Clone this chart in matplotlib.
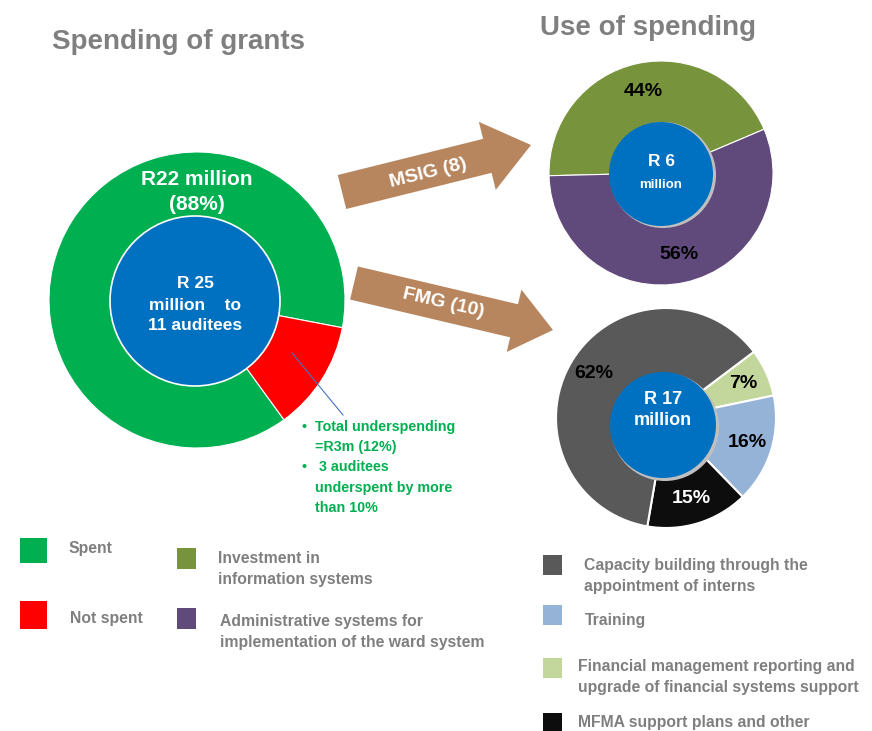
import matplotlib
matplotlib.use('Agg')
import matplotlib.pyplot as plt
from matplotlib.patches import Circle, Rectangle, FancyArrow

plt.rcParams['font.family'] = ['Liberation Sans Narrow', 'Liberation Sans', 'DejaVu Sans']
plt.rcParams['font.weight'] = 'bold'

W, H = 872, 731

# data
grant_labels = ['Spent', 'Not spent']
grant_values = [88, 12]
grant_colors = ['#00b050', '#ff0000']

msig_labels = ['Investment in\ninformation systems',
               'Administrative systems for\nimplementation of the ward system']
msig_values = [44, 56]
msig_colors = ['#77933c', '#604a7b']

fmg_labels = ['Financial management reporting and\nupgrade of financial systems support',
              'Training',
              'MFMA support plans and other',
              'Capacity building through the\nappointment of interns']
fmg_values = [7, 16, 15, 62]
fmg_colors = ['#c3d69b', '#95b3d7', '#0d0d0d', '#595959']
fmg_text_colors = ['black', 'black', 'white', 'black']

GRAY = '#7f7f7f'
BLUE = '#0070c0'
BROWN = '#b7865f'


def Y(y):
    return H - y


fig = plt.figure(figsize=(8.72, 7.31), dpi=100)
ax = fig.add_axes([0, 0, 1, 1])

# left donut: spending of grants
ax.pie(grant_values, colors=grant_colors, radius=148, center=(197, Y(300)),
       startangle=-10.8, counterclock=True, frame=True,
       wedgeprops=dict(width=75, edgecolor='white', linewidth=0.8))
ax.add_patch(Circle((195, Y(301)), 85, facecolor=BLUE, edgecolor='white', lw=1.2, zorder=3))
ax.text(197, Y(192), 'R22 million\n(88%)', color='white', fontsize=15, ha='center',
        va='center', linespacing=1.4, zorder=4)
ax.text(195, Y(305), 'R 25\nmillion    to\n11 auditees', color='white', fontsize=12.5,
        ha='center', va='center', linespacing=1.5, zorder=4)

# MSIG donut
_, _, msig_txt = ax.pie(msig_values, colors=msig_colors, radius=112, center=(661, Y(173)),
                        startangle=23, counterclock=True, frame=True, autopct='%.0f%%',
                        pctdistance=0.74,
                        wedgeprops=dict(width=70, edgecolor='white', linewidth=0.8))
for t in msig_txt:
    t.set_fontsize(14)
    t.set_color('black')
ax.add_patch(Circle((663, Y(175)), 53, facecolor='#bfbfbf', edgecolor='none', zorder=2.9))
ax.add_patch(Circle((661, Y(174)), 52, facecolor=BLUE, edgecolor='none', zorder=3))
ax.text(661, Y(162), 'R 6', color='white', fontsize=12.5, ha='center', va='center', zorder=4)
ax.text(661, Y(185), 'million', color='white', fontsize=9.5, ha='center', va='center', zorder=4)

# FMG donut
_, _, fmg_txt = ax.pie(fmg_values, colors=fmg_colors, radius=110, center=(666, Y(418)),
                       startangle=37, counterclock=False, frame=True, autopct='%.0f%%',
                       pctdistance=0.77,
                       wedgeprops=dict(width=68, edgecolor='white', linewidth=1.5))
for t, c in zip(fmg_txt, fmg_text_colors):
    t.set_fontsize(14)
    t.set_color(c)
ax.add_patch(Circle((665, Y(427)), 54, facecolor='#bfbfbf', edgecolor='none', zorder=2.9))
ax.add_patch(Circle((663, Y(425)), 53, facecolor=BLUE, edgecolor='none', zorder=3))
ax.text(663, Y(410), 'R 17\nmillion', color='white', fontsize=13, ha='center',
        va='center', linespacing=1.35, zorder=4)

# arrows
ax.add_patch(FancyArrow(342, Y(192), 189, 47, width=35, head_width=70, head_length=45,
                        length_includes_head=True, color=BROWN, lw=0))
ax.add_patch(FancyArrow(354, Y(283), 199, -47, width=34, head_width=64, head_length=40,
                        length_includes_head=True, color=BROWN, lw=0))
ax.text(428, Y(173), 'MSIG (8)', color='white', fontsize=14, rotation=14,
        ha='center', va='center', rotation_mode='anchor')
ax.text(443, Y(303), 'FMG (10)', color='white', fontsize=14, rotation=-13,
        ha='center', va='center', rotation_mode='anchor')

# underspending note
ax.plot([292, 343], [Y(353), Y(415)], color='#4472c4', lw=0.8, zorder=5)
note = [(427, True, 'Total underspending'), (447, False, '=R3m (12%)'),
        (467, True, ' 3 auditees'), (488, False, 'underspent by more'),
        (508, False, 'than 10%')]
for yy, bullet, txt in note:
    if bullet:
        ax.text(301, Y(yy), '\u2022', color='#00b050', fontsize=10, ha='left', va='center')
    ax.text(315, Y(yy), txt, color='#00b050', fontsize=10.3, ha='left', va='center')

# titles
ax.text(52, Y(42), 'Spending of grants', color=GRAY, fontsize=20, ha='left', va='center')
ax.text(540, Y(28), 'Use of spending', color=GRAY, fontsize=20, ha='left', va='center')

# legends
leg_grant = [(20, 538, 27, 25, 68, 549), (20, 601, 27, 28, 70, 618)]
for (x, y, w, h, tx, ty), lab, col in zip(leg_grant, grant_labels, grant_colors):
    ax.add_patch(Rectangle((x, Y(y + h)), w, h, facecolor=col, edgecolor='none'))
    ax.text(tx, Y(ty), lab, color=GRAY, fontsize=11.3, ha='left', va='center')

leg_msig = [(177, 548, 569, 218, 569), (177, 608, 629, 220, 632)]
for (x, y0, y1, tx, ty), lab, col in zip(leg_msig, msig_labels, msig_colors):
    ax.add_patch(Rectangle((x, Y(y1)), 19, y1 - y0, facecolor=col, edgecolor='none'))
    ax.text(tx, Y(ty), lab, color=GRAY, fontsize=11.3, ha='left', va='center', linespacing=1.55)

leg_fmg = [(658, 678, 578, 677), (605, 625, 585, 620), (713, 731, 578, 722), (555, 575, 584, 576)]
for (y0, y1, tx, ty), lab, col in zip(leg_fmg, fmg_labels, fmg_colors):
    ax.add_patch(Rectangle((543, Y(y1)), 19, y1 - y0, facecolor=col, edgecolor='none'))
    ax.text(tx, Y(ty), lab, color=GRAY, fontsize=11.3, ha='left', va='center', linespacing=1.55)

ax.set_xlim(0, W)
ax.set_ylim(0, H)
ax.set_aspect('equal')
ax.axis('off')

fig.savefig('out.png', dpi=100)
